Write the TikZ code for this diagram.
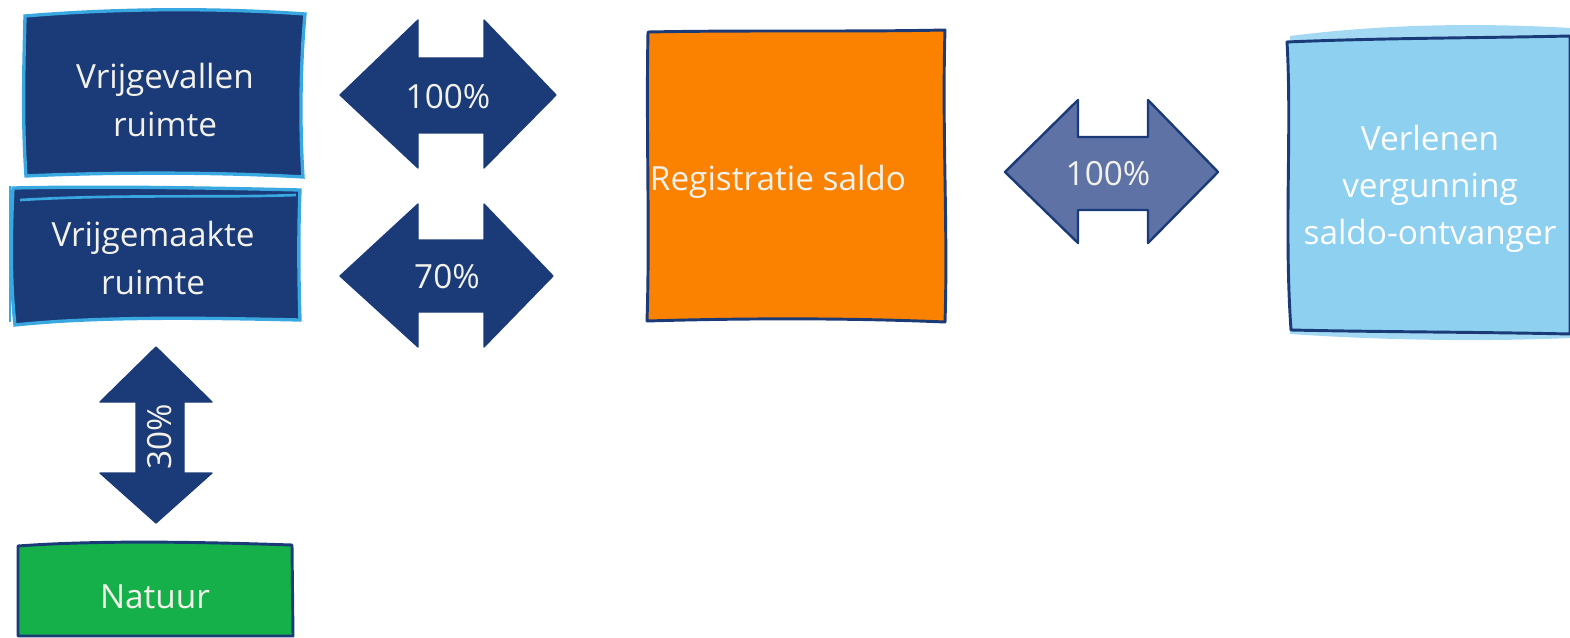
\documentclass[tikz,border=0pt]{standalone}
\usepackage{fontspec}
\setmainfont{Open Sans}
\definecolor{navy}{HTML}{1B3A78}
\definecolor{skyline}{HTML}{3AA8E0}
\definecolor{orng}{HTML}{FB8200}
\definecolor{grn}{HTML}{16B04B}
\definecolor{lblue}{HTML}{8DD0F0}
\definecolor{slate}{HTML}{5E72A6}
\definecolor{txt}{HTML}{F2F2EA}
\begin{document}
\begin{tikzpicture}[x=0.75pt,y=-0.75pt,
  lbl/.style={text=txt, font=\fontsize{25}{35.5}\selectfont, align=center, inner sep=0pt},
  darkbox/.style={fill=navy, draw=skyline, line width=2.5pt},
  bigarrow/.style={fill=navy, draw=navy, line width=1pt, line join=round},
  sketchbox/.style={draw=navy, line width=2.2pt, line join=round}]
\useasboundingbox (0,0) rectangle (1570,638);

% Vrijgevallen ruimte
\path[darkbox] (25,16) .. controls (120,8) and (220,8) .. (305,14)
  .. controls (300,70) and (300,130) .. (303,177)
  .. controls (220,172) and (110,172) .. (26,176)
  .. controls (22,120) and (24,60) .. (25,16) -- cycle;
\node[lbl] (v1) at (165,100) {Vrijgevallen\\ruimte};

% Vrijgemaakte ruimte
\path[darkbox] (13,188) .. controls (100,186) and (220,188) .. (300,190)
  .. controls (298,240) and (299,290) .. (300,320)
  .. controls (210,318) and (100,316) .. (15,325)
  .. controls (10,280) and (11,230) .. (13,188) -- cycle;
\draw[skyline, line width=2pt] (20,200) .. controls (120,194) and (220,198) .. (296,195);
\draw[skyline, line width=1.5pt] (10,186) -- (10,322);
\node[lbl] (v2) at (153,258) {Vrijgemaakte\\ruimte};

% 100% arrow (top)
\path[bigarrow] (340,95) -- (418,20) -- (418,58) -- (484,58) -- (484,20) -- (556,95)
  -- (484,168) -- (484,133) -- (418,133) -- (418,168) -- cycle;
\node[lbl] (p1) at (448,97) {100\%};

% 70% arrow
\path[bigarrow] (340,276) -- (418,204) -- (418,240) -- (484,240) -- (484,204) -- (553,276)
  -- (484,347) -- (484,312) -- (418,312) -- (418,347) -- cycle;
\node[lbl] (p2) at (447,277) {70\%};

% 30% vertical arrow
\path[bigarrow] (156,347) -- (212,402) -- (184,402) -- (184,473) -- (212,473) -- (156,523)
  -- (100,473) -- (136,473) -- (136,402) -- (100,402) -- cycle;
\node[lbl, rotate=90] (p3) at (160,437) {30\%};

% Natuur
\path[sketchbox, fill=grn] (18,546) .. controls (100,540) and (200,542) .. (292,545)
  -- (293,636) -- (18,636) -- cycle;
\node[lbl] (nat) at (155,597) {Natuur};

% Registratie saldo
\path[sketchbox, fill=orng] (648,32) .. controls (750,30) and (850,32) .. (945,30)
  .. controls (942,130) and (948,230) .. (945,322)
  .. controls (850,318) and (750,318) .. (647,321)
  .. controls (650,230) and (646,130) .. (648,32) -- cycle;
\node[lbl] (reg) at (778,182) {Registratie saldo};

% 100% arrow (right)
\path[bigarrow, fill=slate, line width=1.8pt] (1005,172) -- (1078,100) -- (1078,137) -- (1148,137) -- (1148,100) -- (1218,172)
  -- (1148,243) -- (1148,210) -- (1078,210) -- (1078,243) -- cycle;
\node[lbl] (p4) at (1108,174) {100\%};

% Verlenen vergunning saldo-ontvanger
\path[fill=lblue!80] (1290,36) .. controls (1400,22) and (1500,24) .. (1570,28) -- (1570,338)
  .. controls (1480,342) and (1380,340) .. (1290,334) -- cycle;
\path[sketchbox, fill=lblue] (1287,42) .. controls (1380,38) and (1480,38) .. (1570,36)
  -- (1570,334)
  .. controls (1480,332) and (1380,332) .. (1291,330)
  .. controls (1284,230) and (1292,130) .. (1287,42) -- cycle;
\node[lbl, text=white] (ver) at (1430,189) {Verlenen\\vergunning\\saldo-ontvanger};
\end{tikzpicture}
\end{document}
